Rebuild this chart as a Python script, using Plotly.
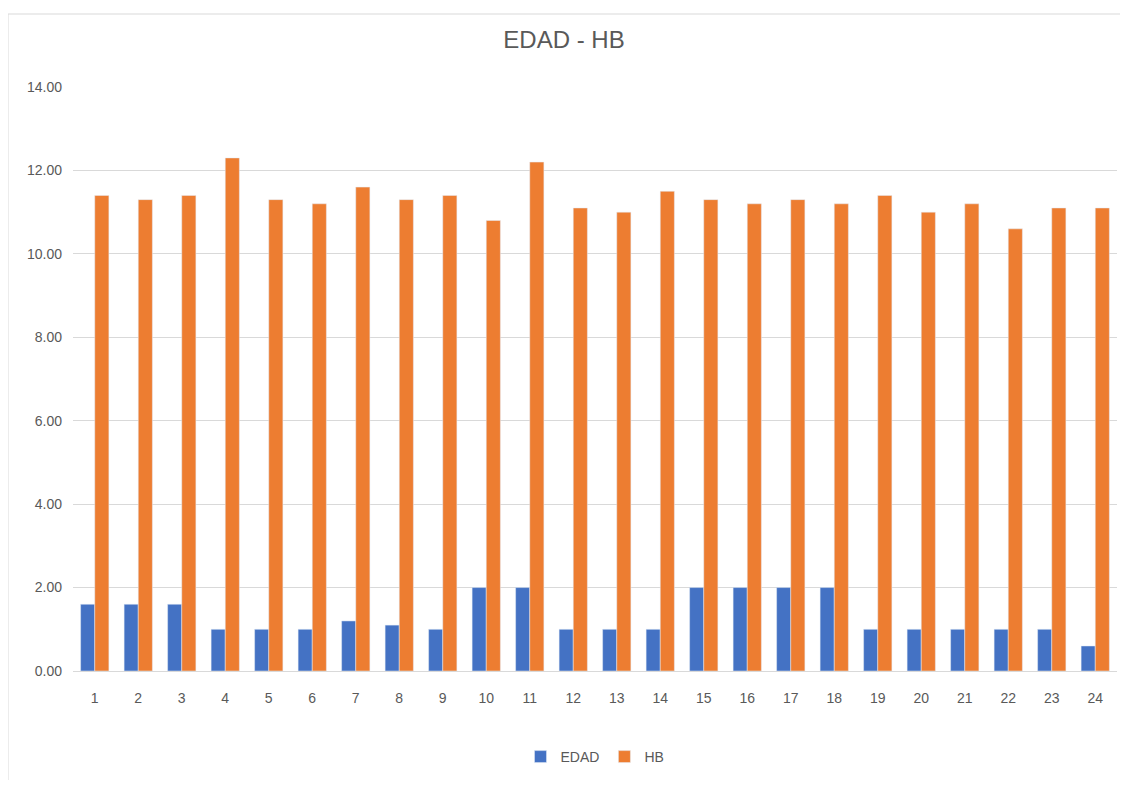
import plotly.graph_objects as go

categories = [str(i) for i in range(1, 25)]
edad = [1.6, 1.6, 1.6, 1.0, 1.0, 1.0, 1.2, 1.1, 1.0, 2.0, 2.0, 1.0,
        1.0, 1.0, 2.0, 2.0, 2.0, 2.0, 1.0, 1.0, 1.0, 1.0, 1.0, 0.6]
hb = [11.4, 11.3, 11.4, 12.3, 11.3, 11.2, 11.6, 11.3, 11.4, 10.8, 12.2, 11.1,
      11.0, 11.5, 11.3, 11.2, 11.3, 11.2, 11.4, 11.0, 11.2, 10.6, 11.1, 11.1]
y_ticks = [0, 2, 4, 6, 8, 10, 12, 14]

FONT = "Liberation Sans Narrow, Arial Narrow, Liberation Sans, sans-serif"
GRAY = "#595959"

fig = go.Figure()
fig.add_trace(go.Bar(name="EDAD", x=categories, y=edad, marker_color="#4472C4"))
fig.add_trace(go.Bar(name="HB", x=categories, y=hb, marker_color="#ED7D31"))

W, H = 1112, 772
ml, mr, mt, mb = 65, 3, 79, 109
ph = H - mt - mb
pw = W - ml - mr

fig.update_layout(
    width=W, height=H,
    margin=dict(l=ml, r=mr, t=mt, b=mb, pad=0),
    paper_bgcolor="white", plot_bgcolor="white",
    barmode="group", bargap=0.35, bargroupgap=0.0,
    font=dict(family=FONT, color=GRAY, size=14),
    title=dict(text="EDAD - HB", x=0.5, xanchor="center",
               y=1 - 32 / H, yanchor="middle", yref="container",
               font=dict(family=FONT, size=24, color=GRAY)),
    legend=dict(orientation="h", x=0.5, xanchor="center",
                y=-(749 - (H - mb)) / ph, yanchor="middle",
                font=dict(family=FONT, size=14, color=GRAY),
                itemwidth=30, traceorder="normal"),
    xaxis=dict(showgrid=False, showline=True, linecolor="#d9d9d9", linewidth=1,
               ticks="", ticklabelstandoff=14,
               tickfont=dict(size=14, color=GRAY)),
    yaxis=dict(range=[0, 14], tickvals=y_ticks,
               ticktext=[f"{v:.2f}" for v in y_ticks],
               showgrid=True, gridcolor="#d9d9d9", gridwidth=1,
               zeroline=False, showline=False, ticks="",
               ticklabelstandoff=10,
               tickfont=dict(size=14, color=GRAY)),
    shapes=[dict(type="rect", xref="paper", yref="paper",
                 x0=-ml / pw, x1=(pw + mr + 20) / pw,
                 y0=-(mb + 20) / ph, y1=(ph + mt - 6) / ph,
                 line=dict(color="#d9d9d9", width=1), layer="below")],
)

fig.write_html("out.html")
